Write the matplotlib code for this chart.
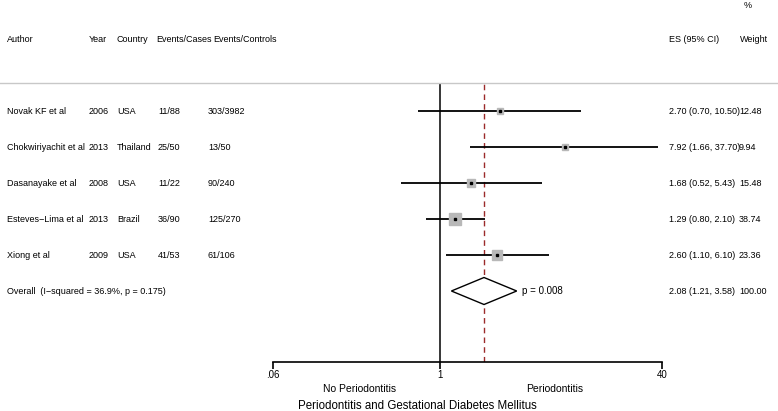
import numpy as np
import matplotlib.pyplot as plt
import matplotlib.transforms as mtransforms
from matplotlib.lines import Line2D

plt.rcParams['font.family'] = ['Liberation Sans', 'DejaVu Sans']

# %% data
authors = ['Novak KF et al', 'Chokwiriyachit et al', 'Dasanayake et al',
           'Esteves-Lima et al', 'Xiong et al']
years = ['2006', '2013', '2008', '2013', '2009']
countries = ['USA', 'Thailand', 'USA', 'Brazil', 'USA']
ev_cases = ['11/88', '25/50', '11/22', '36/90', '41/53']
ev_controls = ['303/3982', '13/50', '90/240', '125/270', '61/106']
es = [2.70, 7.92, 1.68, 1.29, 2.60]
lo = [0.70, 1.66, 0.52, 0.80, 1.10]
hi = [10.50, 37.70, 5.43, 2.10, 6.10]
weight = [12.48, 9.94, 15.48, 38.74, 23.36]

overall_es, overall_lo, overall_hi = 2.08, 1.21, 3.58
overall_label = 'Overall  (I\u2212squared = 36.9%, p = 0.175)'
overall_p = 'p = 0.008'

xticks = [0.0625, 1, 40]
xticklabels = ['.06', '1', '40']

# %% figure
W, H = 778, 411
fig = plt.figure(figsize=(W/100, H/100), dpi=100)
px = lambda x: x/W
py = lambda y: 1 - y/H

fs = 6.5
ax_left, ax_right, ax_top, ax_bot = 273, 662, 83, 362
ax = fig.add_axes([px(ax_left), py(ax_bot), px(ax_right-ax_left), (ax_bot-ax_top)/H])
ax.set_xscale('log')
ax.set_xlim(xticks[0], xticks[-1])
row0, dy = 111, 36
ax.set_ylim((ax_bot-row0)/dy, (ax_top-row0)/dy)
ax.patch.set_alpha(0)
for s in ['top', 'left', 'right']:
    ax.spines[s].set_visible(False)
ax.spines['bottom'].set_linewidth(1.2)
ax.set_yticks([])
ax.set_xticks(xticks)
ax.set_xticklabels(xticklabels, fontsize=7)
ax.minorticks_off()
ax.tick_params(axis='x', direction='out', length=5, width=1.2, pad=1)

rows = np.arange(len(authors))

# reference lines
ax.axvline(1, color='black', lw=1.1)
ax.axvline(overall_es, color='#9b2a2a', lw=1.0, ls=(0, (4, 3)))

# study CIs and boxes
for i in rows:
    ax.plot([lo[i], hi[i]], [i, i], color='black', lw=1.3, solid_capstyle='butt')
    side = 12*np.sqrt(weight[i]/max(weight))
    ax.plot(es[i], i, marker='s', ms=side*0.72, color='#b8b8b8', mec='#b8b8b8', zorder=3)
    ax.plot(es[i], i, marker='s', ms=1.5, color='black', zorder=4)

# overall diamond
yo = len(authors)
dh = 0.375
ax.fill([overall_lo, overall_es, overall_hi, overall_es, overall_lo],
        [yo, yo-dh, yo, yo+dh, yo], facecolor='white', edgecolor='black', lw=1.0, zorder=3)

trans = mtransforms.blended_transform_factory(fig.transFigure, ax.transData)

# left text columns
cols_x = [7, 89, 117, 158, 208]
for i in rows:
    vals = [authors[i], years[i], countries[i], ev_cases[i], ev_controls[i]]
    for x, v in zip(cols_x, vals):
        ax.text(px(x), i, v.replace('-', '\u2212'), transform=trans, fontsize=fs, va='center', ha='left')
    ax.text(px(669), i, '%.2f (%.2f, %.2f)' % (es[i], lo[i], hi[i]), transform=trans,
            fontsize=fs, va='center', ha='left')
    ax.text(px(739), i, '%.2f' % weight[i], transform=trans, fontsize=fs, va='center', ha='left')

ax.text(px(7), yo, overall_label, transform=trans, fontsize=fs, va='center', ha='left')
ax.text(overall_hi*1.1, yo, overall_p, fontsize=fs+0.5, va='center', ha='left')
ax.text(px(669), yo, '%.2f (%.2f, %.2f)' % (overall_es, overall_lo, overall_hi), transform=trans,
        fontsize=fs, va='center', ha='left')
ax.text(px(739), yo, '100.00', transform=trans, fontsize=fs, va='center', ha='left')

# headers
hdr = [(7, 'Author'), (89, 'Year'), (117, 'Country'), (156, 'Events/Cases'),
       (213, 'Events/Controls'), (669, 'ES (95% CI)'), (740, 'Weight')]
for x, t in hdr:
    fig.text(px(x), py(40), t, fontsize=fs, va='center', ha='left')
fig.text(px(744), py(5), '%', fontsize=fs, va='center', ha='left')

# header rule
fig.add_artist(Line2D([0, 1], [py(83), py(83)], color='#c8c8c8', lw=1.0))

# bottom labels
fig.text(px(360), py(389), 'No Periodontitis', fontsize=7.5, va='center', ha='center')
fig.text(px(555), py(389), 'Periodontitis', fontsize=7.5, va='center', ha='center')
fig.text(px(298), py(406), 'Periodontitis and Gestational Diabetes Mellitus', fontsize=8.3,
         va='center', ha='left')

fig.savefig('out.png', dpi=100)
